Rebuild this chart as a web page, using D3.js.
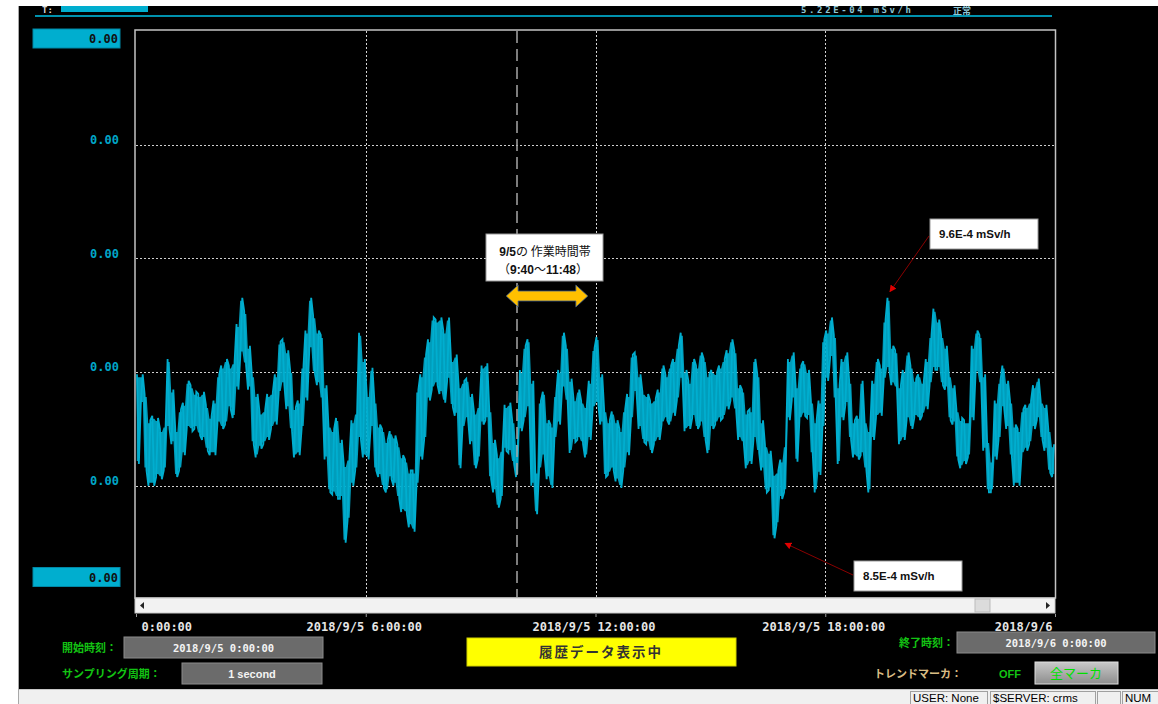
<!DOCTYPE html>
<html><head><meta charset="utf-8">
<script src="https://cdn.jsdelivr.net/npm/d3@7"></script>
<style>
html,body{margin:0;padding:0;background:#fff;overflow:hidden}
svg{display:block}
</style></head><body>
<svg id="c" width="1158" height="704"></svg>
<script>
// ---------- DATA (values in 1e-4 mSv/h, per 6‑minute bin: max / min) ----------
const binHours = 0.1;
const seriesHigh = [
9.25,9.25,9.16,9.04,9.06,9.05,9.00,9.02,9.32,9.18,
9.00,9.09,9.12,9.22,9.20,9.17,9.16,9.17,9.11,9.06,
9.13,9.25,9.29,9.32,9.29,9.31,9.48,9.60,9.54,9.38,
9.25,9.16,9.08,9.09,9.16,9.17,9.25,9.40,9.41,9.36,
9.27,9.10,9.13,9.29,9.45,9.60,9.52,9.45,9.43,9.20,
9.02,9.00,9.05,8.95,8.84,8.87,9.04,9.08,9.44,9.32,
9.16,9.28,9.13,9.02,9.00,8.95,8.99,8.97,8.93,8.88,
8.86,8.81,8.81,9.18,9.25,9.34,9.41,9.51,9.50,9.51,
9.45,9.51,9.32,9.34,9.20,9.22,9.23,9.16,9.08,9.11,
9.29,9.30,9.09,8.95,8.88,8.91,9.11,9.12,9.04,8.94,
9.27,9.38,9.41,9.22,8.81,9.13,9.17,9.04,9.02,9.16,
9.27,9.44,9.38,9.23,9.14,9.18,9.13,9.11,9.22,9.37,
9.42,9.25,9.09,9.04,9.08,9.04,9.00,9.09,9.16,9.34,
9.35,9.25,9.17,9.16,9.13,9.14,9.18,9.29,9.25,9.29,
9.32,9.38,9.44,9.27,9.22,9.32,9.29,9.35,9.32,9.25,
9.27,9.26,9.29,9.32,9.36,9.41,9.36,9.20,9.18,9.08,
9.09,9.32,9.25,9.04,8.93,8.90,8.80,8.81,8.86,8.93,
9.32,9.35,9.20,9.29,9.31,9.27,9.13,9.04,9.13,9.41,
9.45,9.51,9.43,9.20,9.32,9.35,9.22,9.04,9.06,9.22,
9.04,9.00,9.22,9.32,9.29,9.50,9.60,9.38,9.36,9.20,
9.27,9.35,9.29,9.23,9.25,9.22,9.32,9.43,9.55,9.50,
9.43,9.38,9.25,9.20,9.09,9.05,9.04,9.04,9.38,9.45,
9.43,9.25,8.95,8.86,9.13,9.22,9.29,9.22,9.13,9.02,
9.00,9.09,9.11,9.13,9.20,9.23,9.13,9.11,9.00,8.93];
const seriesLow = [
8.84,9.11,8.81,8.74,8.74,8.78,8.77,8.81,9.00,8.93,
8.78,8.81,8.88,9.00,8.99,9.00,8.97,8.95,8.90,8.88,
8.88,9.02,9.00,9.02,9.09,9.05,9.18,9.34,9.29,9.18,
8.93,8.87,8.91,8.93,8.95,9.00,9.02,9.16,9.20,9.09,
8.99,8.87,8.88,9.00,9.13,9.36,9.25,9.20,9.13,8.86,
8.71,8.70,8.68,8.68,8.48,8.58,8.74,8.81,8.95,8.87,
8.86,9.00,8.81,8.78,8.73,8.71,8.77,8.74,8.68,8.62,
8.61,8.55,8.53,8.74,8.86,8.95,9.13,9.18,9.20,9.16,
9.12,9.22,9.10,9.06,8.82,9.00,9.04,8.93,8.82,8.86,
9.02,9.04,8.77,8.71,8.64,8.68,8.90,8.89,8.84,8.78,
8.99,9.04,9.09,8.74,8.61,8.81,8.87,8.77,8.73,8.95,
9.02,9.18,9.12,8.89,8.94,8.95,8.93,8.87,8.95,9.09,
9.11,9.02,8.78,8.79,8.81,8.76,8.73,8.81,8.88,9.04,
9.16,9.00,8.94,8.93,8.89,8.93,8.95,9.02,9.04,9.02,
9.06,9.13,9.22,8.99,9.00,9.05,9.00,9.02,8.95,8.89,
9.00,9.02,9.04,9.05,9.09,9.13,9.08,8.95,8.93,8.82,
8.84,8.95,8.89,8.81,8.71,8.72,8.50,8.56,8.68,8.71,
9.04,9.13,8.85,9.04,9.06,9.05,8.88,8.71,8.79,9.00,
9.22,9.32,9.13,8.84,9.04,9.11,8.95,8.87,8.86,8.88,
8.81,8.71,8.95,9.05,9.06,9.22,9.27,9.20,9.18,8.93,
8.95,9.04,9.00,9.05,9.04,9.06,9.09,9.20,9.27,9.27,
9.20,9.18,9.04,9.02,8.86,8.82,8.84,8.87,9.04,9.25,
9.20,8.90,8.71,8.71,8.86,8.95,9.09,9.00,8.87,8.74,
8.74,8.88,8.90,8.93,9.00,9.04,8.95,8.90,8.80,8.78];
const xTickHours = [0, 6, 12, 18, 24];
const xTickLabels = ["0:00:00","2018/9/5 6:00:00","2018/9/5 12:00:00","2018/9/5 18:00:00","2018/9/6"];
const yTickValues = [8.22, 8.74, 9.26, 9.78, 10.30, 10.82];
const workWindow = [9 + 40/60, 11 + 48/60];
const markerHour = 9.95;
const peakNote = {label: "9.6E-4 mSv/h", hour: 19.61, value: 9.6};
const lowNote  = {label: "8.5E-4 mSv/h", hour: 16.69, value: 8.5};

// ---------- SETUP ----------
const W = 1158, H = 704;
const svg = d3.select("#c");
const mono = "'DejaVu Sans Mono', monospace";
const jp = "'Noto Sans CJK JP', sans-serif";
const sans = "'Liberation Sans', Arial, sans-serif";
const cyan = "#00AECF";

svg.append("rect").attr("width", W).attr("height", H).attr("fill", "#fff");
svg.append("rect").attr("x", 19).attr("y", 6).attr("width", W - 19).attr("height", 683).attr("fill", "#000");
svg.append("line").attr("x1", 18.5).attr("x2", 18.5).attr("y1", 6).attr("y2", H).attr("stroke", "#a8a8a8");

// top strip
svg.append("line").attr("x1", 35).attr("x2", 1052).attr("y1", 16).attr("y2", 16).attr("stroke", "#0092AE").attr("stroke-width", 2);
svg.append("text").attr("x", 42).attr("y", 13).attr("fill", "#ddd").attr("font-family", mono).attr("font-weight", "bold").attr("font-size", 9).text("T:");
svg.append("rect").attr("x", 61).attr("y", 6).attr("width", 87).attr("height", 6).attr("fill", cyan);
svg.append("text").attr("x", 801).attr("y", 13).attr("fill", "#8ec7d6").attr("font-family", mono).attr("font-weight", "bold").attr("font-size", 9).attr("textLength", 110).text("5.22E-04 mSv/h");
svg.append("text").attr("x", 953).attr("y", 14).attr("fill", "#8ec7d6").attr("font-family", jp).attr("font-weight", "bold").attr("font-size", 9).text("正常");

// scales
const x = d3.scaleLinear().domain([0, 24]).range([136, 1055]);
const y = d3.scaleLinear().domain([yTickValues[0], yTickValues[yTickValues.length - 1]]).range([599.5, 31]);

// grid
const grid = svg.append("g");
grid.selectAll("line.h").data(yTickValues.slice(1, -1)).join("line")
  .attr("x1", 136).attr("x2", 1055).attr("y1", d => Math.round(y(d)) + 0.5).attr("y2", d => Math.round(y(d)) + 0.5)
  .attr("stroke", "#cfcfcf").attr("stroke-dasharray", "2,2");
grid.selectAll("line.v").data(xTickHours.slice(1, -1)).join("line")
  .attr("x1", d => Math.round(x(d)) + 0.5).attr("x2", d => Math.round(x(d)) + 0.5).attr("y1", 31).attr("y2", 598)
  .attr("stroke", "#d4d4d4").attr("stroke-dasharray", "2,2");

// data: min/max band per bin + zigzag trace
const defs = svg.append("defs");
defs.append("clipPath").attr("id", "pc").append("rect").attr("x", 136).attr("y", 31).attr("width", 919).attr("height", 567);
const bins = seriesHigh.map((hi, i) => ({t: i * binHours, hi, lo: seriesLow[i]}));
const bandPts = [];
bins.forEach(b => { bandPts.push({t: b.t + binHours * 0.2, hi: b.hi, lo: b.lo}); bandPts.push({t: b.t + binHours * 0.8, hi: b.hi, lo: b.lo}); });
svg.append("path").datum(bandPts).attr("clip-path", "url(#pc)")
  .attr("d", d3.area().x(d => x(d.t)).y0(d => y(d.lo) - 3).y1(d => y(d.hi) + 3).defined(d => y(d.lo) - y(d.hi) > 6))
  .attr("fill", cyan).attr("opacity", 0.9);
const pts = [];
bins.forEach((b, i) => {
  if (i % 2 === 0) { pts.push([b.t + binHours * 0.25, b.hi]); pts.push([b.t + binHours * 0.75, b.lo]); }
  else { pts.push([b.t + binHours * 0.25, b.lo]); pts.push([b.t + binHours * 0.75, b.hi]); }
});
svg.append("path").datum(pts).attr("clip-path", "url(#pc)")
  .attr("d", d3.line().x(d => x(d[0])).y(d => y(d[1])))
  .attr("fill", "none").attr("stroke", cyan).attr("stroke-width", 1.8);

// marker dashed line
svg.append("line").attr("x1", x(markerHour)).attr("x2", x(markerHour)).attr("y1", 31).attr("y2", 597)
  .attr("stroke", "#a6a6a6").attr("stroke-width", 1.5).attr("stroke-dasharray", "12,6");

// plot border
svg.append("rect").attr("x", 135).attr("y", 30).attr("width", 920.5).attr("height", 568)
  .attr("fill", "none").attr("stroke", "#c4c4c4").attr("stroke-width", 1.5);

// scrollbar
svg.append("rect").attr("x", 135).attr("y", 598).attr("width", 920).attr("height", 15).attr("fill", "#f2f2f2").attr("stroke", "#c8c8c8");
svg.append("path").attr("d", "M144,602 L140,605.5 L144,609 Z").attr("fill", "#222");
svg.append("rect").attr("x", 975).attr("y", 599).attr("width", 15).attr("height", 13).attr("fill", "#dcdcdc").attr("stroke", "#bbb");
svg.append("path").attr("d", "M1046,602 L1050,605.5 L1046,609 Z").attr("fill", "#222");

// x axis
const xa = svg.append("g").attr("transform", "translate(0,614)")
  .call(d3.axisBottom(x).tickValues(xTickHours).tickSize(3).tickPadding(5).tickFormat((d, i) => xTickLabels[i]));
xa.select(".domain").remove();
xa.selectAll("line").attr("stroke", "#999");
xa.selectAll("text").attr("fill", "#e6e6e6").attr("font-family", mono).attr("font-weight", "bold").attr("font-size", 12)
  .attr("text-anchor", (d, i) => i === 0 ? "start" : (i === xTickHours.length - 1 ? "end" : "middle"))
  .attr("dx", (d, i) => i === 0 ? 5 : (i === xTickHours.length - 1 ? -3 : -2));

// y axis (interior ticks)
const fmt = d => d3.format(".2f")(d * 1e-4);
const ya = svg.append("g").attr("transform", "translate(119,-5)")
  .call(d3.axisLeft(y).tickValues(yTickValues.slice(1, -1)).tickSize(0).tickPadding(0).tickFormat(fmt));
ya.select(".domain").remove();
ya.selectAll("text").attr("fill", "#00A6C8").attr("font-family", mono).attr("font-weight", "bold").attr("font-size", 12);
const ends = [
  {v: yTickValues[yTickValues.length - 1], y0: y(yTickValues[yTickValues.length - 1]) - 2},
  {v: yTickValues[0], y0: y(yTickValues[0]) - 32}
];
ends.forEach(e => {
  svg.append("rect").attr("x", 33).attr("y", e.y0).attr("width", 87).attr("height", 19).attr("fill", cyan).attr("stroke", "#0088a6");
  svg.append("text").attr("x", 118).attr("y", e.y0 + 14).attr("text-anchor", "end").attr("fill", "#111")
    .attr("font-family", mono).attr("font-weight", "bold").attr("font-size", 12).text(fmt(e.v));
});

// work window annotation
const ax0 = x(workWindow[0]), ax1 = x(workWindow[1]), ay = 296;
svg.append("path").attr("d",
  `M${ax0},${ay} L${ax0+12},${ay-11} L${ax0+12},${ay-5} L${ax1-12},${ay-5} L${ax1-12},${ay-11} L${ax1},${ay} L${ax1-12},${ay+11} L${ax1-12},${ay+5} L${ax0+12},${ay+5} L${ax0+12},${ay+11} Z`)
  .attr("fill", "#FFC000").attr("stroke", "#3A5A8C").attr("stroke-width", 0.8);
svg.append("rect").attr("x", 486).attr("y", 234).attr("width", 117).attr("height", 47).attr("fill", "#fff").attr("stroke", "#999");
const t1 = svg.append("text").attr("x", 545).attr("y", 256).attr("text-anchor", "middle").attr("fill", "#111").attr("font-size", 12);
t1.append("tspan").attr("font-family", sans).attr("font-weight", "bold").text("9/5");
t1.append("tspan").attr("font-family", jp).text("の 作業時間帯");
const t2 = svg.append("text").attr("x", 543).attr("y", 274).attr("text-anchor", "middle").attr("fill", "#111").attr("font-size", 12);
t2.append("tspan").attr("font-family", jp).text("（");
t2.append("tspan").attr("font-family", sans).attr("font-weight", "bold").text("9:40");
t2.append("tspan").attr("font-family", jp).text("～");
t2.append("tspan").attr("font-family", sans).attr("font-weight", "bold").text("11:48");
t2.append("tspan").attr("font-family", jp).text("）");

// value annotations
defs.append("marker").attr("id", "ah").attr("viewBox", "0 0 10 10").attr("refX", 9).attr("refY", 5)
  .attr("markerWidth", 7).attr("markerHeight", 7).attr("orient", "auto")
  .append("path").attr("d", "M0,0 L10,5 L0,10 Z").attr("fill", "#e00000");
function note(n, bx, by, fromX, fromY, tipDx, tipDy) {
  svg.append("line").attr("x1", fromX).attr("y1", fromY).attr("x2", x(n.hour) + tipDx).attr("y2", y(n.value) + tipDy)
    .attr("stroke", "#8a0000").attr("stroke-width", 1).attr("marker-end", "url(#ah)");
  svg.append("rect").attr("x", bx).attr("y", by).attr("width", 108).attr("height", 30).attr("fill", "#fff").attr("stroke", "#999");
  svg.append("text").attr("x", bx + 9).attr("y", by + 19).attr("fill", "#111").attr("font-family", sans)
    .attr("font-weight", "bold").attr("font-size", 11.5).text(n.label);
}
note(peakNote, 930, 219, 929, 236, 3, -6);
note(lowNote, 854, 561, 853, 575, 10, 5);

// bottom panel
const green = "#13C313";
function label(txt, xx, yy, col) {
  svg.append("text").attr("x", xx).attr("y", yy).attr("fill", col).attr("font-family", jp).attr("font-weight", "bold")
    .attr("font-size", 11).text(txt);
}
function grayBox(xx, yy, w, h, txt, font, size) {
  svg.append("rect").attr("x", xx).attr("y", yy).attr("width", w).attr("height", h).attr("fill", "#6b6b6b").attr("stroke", "#8c8c8c");
  svg.append("text").attr("x", xx + w / 2).attr("y", yy + h / 2 + 4).attr("text-anchor", "middle").attr("fill", "#f4f4f4")
    .attr("font-family", font).attr("font-weight", "bold").attr("font-size", size).text(txt);
}
label("開始時刻：", 62, 652, green);
grayBox(124, 637, 199, 21, "2018/9/5 0:00:00", mono, 10.5);
label("サンプリング周期：", 62, 678, green);
grayBox(182, 663, 140, 21, "1 second", sans, 11);
label("終了時刻：", 899, 647, green);
grayBox(957, 632, 198, 21, "2018/9/6 0:00:00", mono, 10.5);
label("トレンドマーカ：", 874, 678, "#D9BC84");
svg.append("text").attr("x", 999).attr("y", 678).attr("fill", green).attr("font-family", sans).attr("font-weight", "bold").attr("font-size", 11).text("OFF");
const grad = defs.append("linearGradient").attr("id", "bg").attr("x1", 0).attr("x2", 0).attr("y1", 0).attr("y2", 1);
grad.append("stop").attr("offset", 0).attr("stop-color", "#c9c9c9");
grad.append("stop").attr("offset", 1).attr("stop-color", "#8d8d8d");
svg.append("rect").attr("x", 1035).attr("y", 662).attr("width", 83).attr("height", 22).attr("fill", "url(#bg)").attr("stroke", "#e0e0e0");
svg.append("text").attr("x", 1076).attr("y", 678).attr("text-anchor", "middle").attr("fill", "#00E000").attr("font-family", jp).attr("font-size", 13).text("全マーカ");
svg.append("rect").attr("x", 467).attr("y", 638).attr("width", 269).attr("height", 28).attr("fill", "#FFFF00").attr("stroke", "#d0d000");
svg.append("text").attr("x", 601).attr("y", 657).attr("text-anchor", "middle").attr("fill", "#333").attr("font-family", jp)
  .attr("font-weight", "bold").attr("font-size", 13.5).attr("letter-spacing", 2).text("履歴データ表示中");

// status bar
svg.append("rect").attr("x", 19).attr("y", 689).attr("width", W - 19).attr("height", 15).attr("fill", "#f0f0f0");
svg.append("line").attr("x1", 19).attr("x2", W).attr("y1", 689.5).attr("y2", 689.5).attr("stroke", "#c8c8c8");
const panes = [{x0: 910, x1: 987, t: "USER: None"}, {x0: 990, x1: 1095, t: "$SERVER: crms"}, {x0: 1097, x1: 1120, t: ""}, {x0: 1122, x1: 1160, t: "NUM"}];
panes.forEach(p => {
  svg.append("rect").attr("x", p.x0 + 0.5).attr("y", 691.5).attr("width", p.x1 - p.x0).attr("height", 13).attr("fill", "none").attr("stroke", "#a0a0a0");
  svg.append("text").attr("x", p.x0 + 3).attr("y", 702).attr("fill", "#000").attr("font-family", sans).attr("font-size", 11.5).text(p.t);
});
</script>
</body></html>
